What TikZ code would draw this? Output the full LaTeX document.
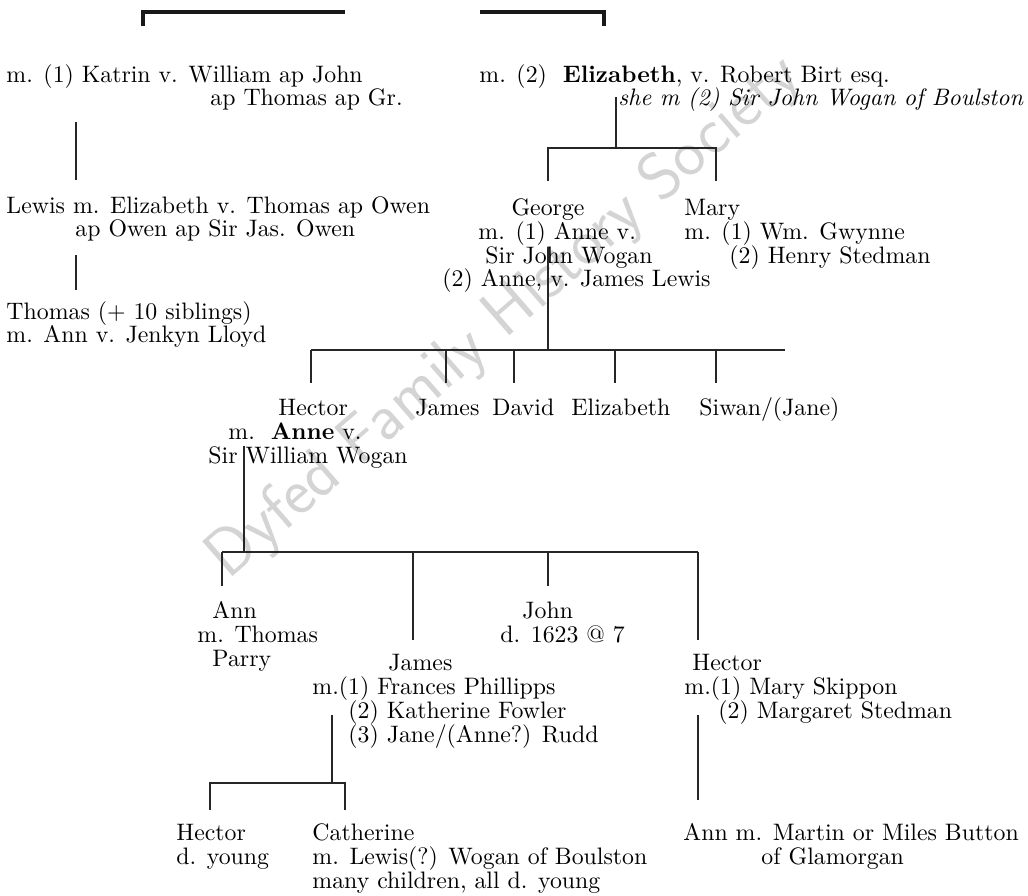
\documentclass[tikz,border=0pt]{standalone}
\begin{document}
\begin{tikzpicture}[x=0.42pt,y=-0.42pt,
  txt/.style={anchor=base west, inner sep=0pt, font=\fontsize{10}{12}\selectfont},
  ctxt/.style={anchor=base, inner sep=0pt, font=\fontsize{10}{12}\selectfont},
  ln/.style={line width=0.5pt, black!85},
  thick line/.style={line width=1.6pt, black!90}]
\useasboundingbox (0,0) rectangle (1028,896);
% watermark
\node[rotate=41, text=black!17, font=\sffamily\fontsize{28}{32}\selectfont, inner sep=0pt] (wm) at (505,318) {Dyfed Family History Society};
% top bracket
\coordinate (b1) at (143,26); \coordinate (b2) at (143,12); \coordinate (b3) at (345,12);
\coordinate (b4) at (480,12); \coordinate (b5) at (604,12); \coordinate (b6) at (604,26);
\draw[thick line] (b1) -- (b2) -- (b3);
\draw[thick line] (b4) -- (b5) -- (b6);
% left column
\node[txt] (k1) at (6,83) {m. (1) Katrin v. William ap John};
\node[txt] (k2) at (210,106) {ap Thomas ap Gr.};
\node[txt] (lw1) at (6,214) {Lewis m. Elizabeth v. Thomas ap Owen};
\node[txt] (lw2) at (75,237) {ap Owen ap Sir Jas. Owen};
\node[txt] (t1) at (6,320) {Thomas (+ 10 siblings)};
\node[txt] (t2) at (6,343) {m. Ann v. Jenkyn Lloyd};
\coordinate (a1) at (76,122); \coordinate (a2) at (76,180);
\coordinate (a3) at (76,255); \coordinate (a4) at (76,290);
\draw[ln] (a1) -- (a2);
\draw[ln] (a3) -- (a4);
% right top
\node[txt] (e1) at (479,83) {m. (2)\ \ \textbf{Elizabeth}, v. Robert Birt esq.};
\node[txt] (e2) at (618,106) {\textit{she m (2) Sir John Wogan of Boulston}};
\coordinate (c1) at (616,97); \coordinate (c2) at (616,148);
\coordinate (d1) at (548,148); \coordinate (d2) at (716,148);
\coordinate (d3) at (548,181); \coordinate (d4) at (716,181);
\draw[ln] (c1) -- (c2);
\draw[ln] (d3) -- (d1) -- (d2) -- (d4);
% George
\node[ctxt] (g1) at (548,216) {George};
\node[txt] (g2) at (478,240) {m. (1) Anne v.};
\node[txt] (g3) at (485,264) {Sir John Wogan};
\node[txt] (g4) at (442,287) {(2) Anne, v. James Lewis};
% Mary
\node[txt] (m1) at (684,216) {Mary};
\node[txt] (m2) at (684,240) {m. (1) Wm. Gwynne};
\node[txt] (m3) at (729,264) {(2) Henry Stedman};
\coordinate (g5) at (548,247); \coordinate (f0) at (548,350);
\draw[ln] (g5) -- (f0);
\coordinate (f1) at (311,350); \coordinate (f2) at (785,350);
\draw[ln] (f1) -- (f2);
\foreach \x/\n in {311/h,446/j,514/d,615/el,716/s}{
  \draw[ln] (\x,350) coordinate (top\n) -- (\x,383) coordinate (bot\n);
}
% children of George
\node[txt] (hc) at (278,416) {Hector};
\node[txt] (jm) at (415,416) {James};
\node[txt] (dv) at (492,416) {David};
\node[txt] (ez) at (571,416) {Elizabeth};
\node[txt] (sw) at (699,416) {Siwan/(Jane)};
\node[txt] (hc2) at (228,440) {m.\ \ \textbf{Anne} v.};
\node[txt] (hc3) at (208,464) {Sir William Wogan};
\coordinate (g6) at (244,446); \coordinate (hb0) at (244,552);
\draw[ln] (g6) -- (hb0);
\coordinate (hb1) at (222,552); \coordinate (hb2) at (698,552);
\draw[ln] (hb1) -- (hb2);
\coordinate (hjt) at (413,552); \coordinate (hjot) at (548,552);
\coordinate (ha) at (222,586); \coordinate (hj) at (413,640);
\coordinate (hjo) at (548,586); \coordinate (hh) at (698,640);
\draw[ln] (hb1) -- (ha);
\draw[ln] (hjt) -- (hj);
\draw[ln] (hjot) -- (hjo);
\draw[ln] (hb2) -- (hh);
% Ann
\node[txt] (an1) at (212,619) {Ann};
\node[txt] (an2) at (197,643) {m. Thomas};
\node[txt] (an3) at (212,667) {Parry};
% John
\node[txt] (jo1) at (522,619) {John};
\node[txt] (jo2) at (500,643) {d. 1623 @ 7};
% James
\node[txt] (ja1) at (388,671) {James};
\node[txt] (ja2) at (312,695) {m.(1) Frances Phillipps};
\node[txt] (ja3) at (348,719) {(2) Katherine Fowler};
\node[txt] (ja4) at (348,743) {(3) Jane/(Anne?) Rudd};
\coordinate (i1) at (332,715); \coordinate (i2) at (332,783);
\draw[ln] (i1) -- (i2);
\coordinate (j1) at (210,810); \coordinate (j2) at (210,783);
\coordinate (j3) at (345,783); \coordinate (j4) at (345,810);
\draw[ln] (j1) -- (j2) -- (j3) -- (j4);
\node[txt] (hy1) at (176,841) {Hector};
\node[txt] (hy2) at (176,865) {d. young};
\node[txt] (ca1) at (312,841) {Catherine};
\node[txt] (ca2) at (312,865) {m. Lewis(?) Wogan of Boulston};
\node[txt] (ca3) at (312,889) {many children, all d. young};
% Hector right
\node[txt] (hr1) at (692,671) {Hector};
\node[txt] (hr2) at (684,695) {m.(1) Mary Skippon};
\node[txt] (hr3) at (718,719) {(2) Margaret Stedman};
\coordinate (k1a) at (698,715); \coordinate (k2a) at (698,800);
\draw[ln] (k1a) -- (k2a);
\node[txt] (bt1) at (683,841) {Ann m. Martin or Miles Button};
\node[txt] (bt2) at (761,865) {of Glamorgan};
\end{tikzpicture}
\end{document}
